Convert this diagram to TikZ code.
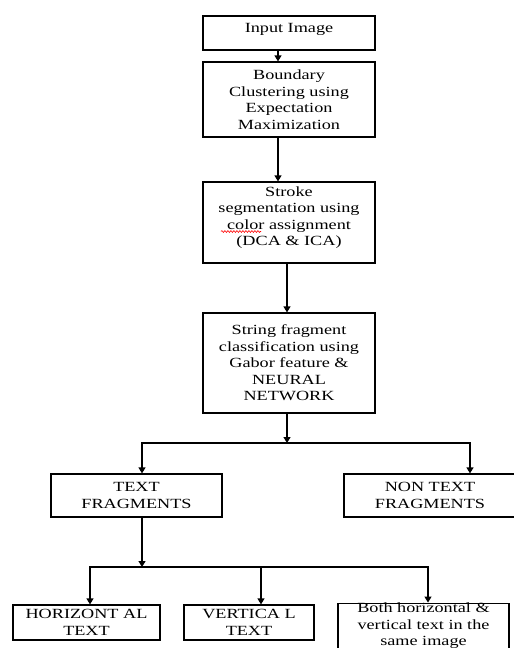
\documentclass[tikz,border=0pt]{standalone}
\usepackage{fontspec}
\setmainfont{Liberation Serif}[FakeStretch=1.3]
\usetikzlibrary{arrows.meta,positioning,decorations.pathmorphing}

\tikzset{
    stagebox/.style={draw, line width=1.2pt, align=center, inner sep=0pt,
        font=\fontsize{14}{16.5}\selectfont},
    flowarrow/.style={-{Triangle[length=6pt,width=7pt]}, line width=1.2pt}
}

\begin{document}
\begin{tikzpicture}[x=1pt, y=-1pt]
    \useasboundingbox (0,0) rectangle (514,648);
    \clip (0,0) rectangle (514,648);

    % Main pipeline
    \node[stagebox, minimum width=172pt, minimum height=34pt] (input) at (289,33) {Input Image\\[-6.5pt]};
    \node[stagebox, minimum width=172pt, minimum height=75pt] (em) at (289,99.5)
        {Boundary\\Clustering using\\Expectation\\Maximization};
    \node[stagebox, minimum width=172pt, minimum height=81pt] (stroke) at (289,222.5)
        {Stroke\\segmentation using\\color assignment\\(DCA \& ICA)\\[-4pt]};
    \node[stagebox, minimum width=172pt, minimum height=100pt] (gabor) at (289,363)
        {String fragment\\classification using\\Gabor feature \&\\NEURAL\\NETWORK};

    % spell-check mark under "color"
    \coordinate (markL) at (221,231.5);
    \coordinate (markR) at (261,231.5);
    \draw[red, line width=0.6pt, decorate,
        decoration={snake, amplitude=0.9pt, segment length=3pt}] (markL) -- (markR);

    % Fragment classes
    \node[stagebox, minimum width=171pt, minimum height=43pt] (textfrag) at (136.5,495.5)
        {TEXT\\FRAGMENTS};
    \node[stagebox, minimum width=172pt, minimum height=43pt] (nontext) at (430,495.5)
        {NON TEXT\\FRAGMENTS};

    % Text orientation
    \node[stagebox, minimum width=147pt, minimum height=35pt] (horiz) at (86.5,622.5)
        {HORIZONT AL\\TEXT};
    \node[stagebox, minimum width=130pt, minimum height=35pt] (vert) at (249,622.5)
        {VERTICA L\\TEXT};
    \node[stagebox, minimum width=171pt, minimum height=52pt] (both) at (423.5,631)
        {Both horizontal \&\\vertical text in the\\same image\\[-3.5pt]};

    % Arrow columns
    \coordinate (colA) at (278,0);
    \coordinate (colB) at (287,0);
    \coordinate (splitA) at (287,443);
    \coordinate (dropL) at (142,443);
    \coordinate (dropR) at (470,443);
    \coordinate (splitB) at (142,567);
    \coordinate (dropH) at (90,567);
    \coordinate (dropV) at (261,567);
    \coordinate (dropB) at (428,567);

    \draw[flowarrow] (input.south -| colA) -- (em.north -| colA);
    \draw[flowarrow] (em.south -| colA) -- (stroke.north -| colA);
    \draw[flowarrow] (stroke.south -| colB) -- (gabor.north -| colB);
    \draw[flowarrow] (gabor.south -| colB) -- (splitA);
    \draw[flowarrow] (splitA) -| (textfrag.north -| dropL);
    \draw[flowarrow] (splitA) -| (nontext.north -| dropR);

    \draw[flowarrow] (textfrag.south -| dropL) -- (splitB);
    \draw[flowarrow] (splitB) -| (horiz.north -| dropH);
    \draw[flowarrow] (splitB) -| (both.north -| dropB);
    \draw[flowarrow] (dropV) -- (vert.north -| dropV);
\end{tikzpicture}
\end{document}
